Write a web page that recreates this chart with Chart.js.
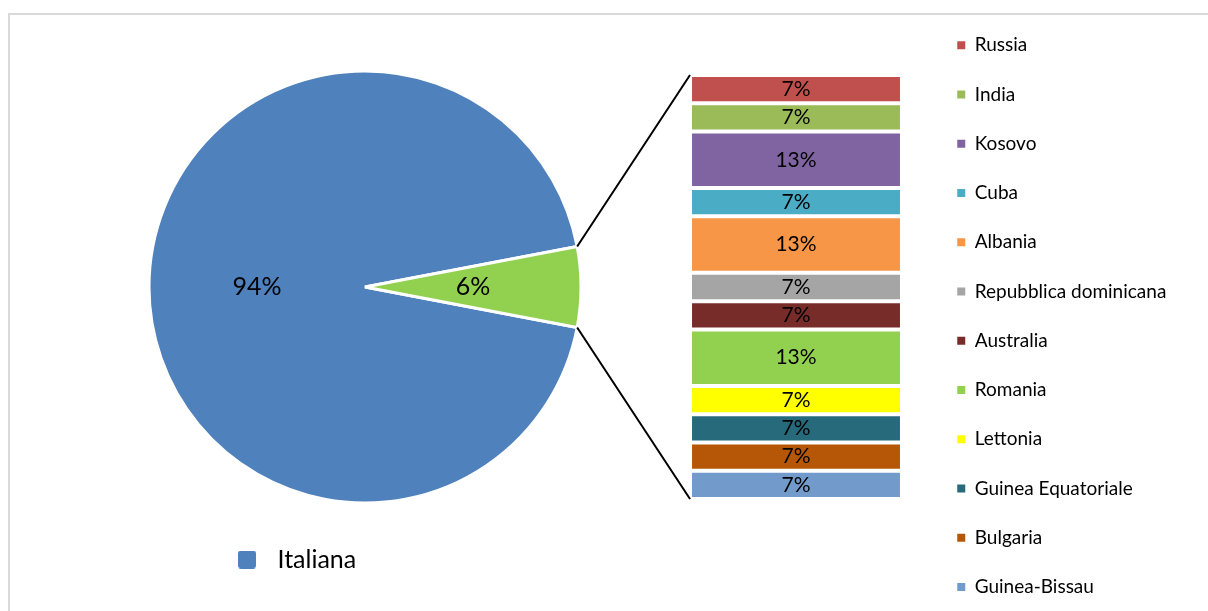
<!DOCTYPE html>
<html>
<head>
<meta charset="utf-8">
<script src="https://cdn.jsdelivr.net/npm/chart.js@4.4.1/dist/chart.umd.min.js"></script>
<style>
  html, body { margin: 0; padding: 0; background: #fff; overflow: hidden; }
  #wrap { position: relative; width: 1208px; height: 611px; overflow: hidden; }
  #frame { position: absolute; left: 8px; top: 13px; width: 1300px; height: 700px;
           border-left: 2px solid #d9d9d9; border-top: 2px solid #d9d9d9; }
  canvas { position: absolute; left: 0; top: 0; }
</style>
</head>
<body>
<div id="wrap">
  <div id="frame"></div>
  <canvas id="torta" width="730" height="582"></canvas>
  <canvas id="barra" width="1208" height="632"></canvas>
</div>
<script>
// pie: italian vs foreign citizenship (percent)
var pieLabels = ['Italiana', 'Straniera'];
var pieValues = [94, 6];
var pieColours = ['#4f81bd', '#92d050'];

// breakdown of the foreign slice (number of people)
var countries = ['Russia', 'India', 'Kosovo', 'Cuba', 'Albania', 'Repubblica dominicana',
  'Australia', 'Romania', 'Lettonia', 'Guinea Equatoriale', 'Bulgaria', 'Guinea-Bissau'];
var countryCounts = [1, 1, 2, 1, 2, 1, 1, 2, 1, 1, 1, 1];
var countryColours = ['#c0504d', '#9bbb59', '#8064a2', '#4bacc6', '#f79646', '#a5a5a5',
  '#772c2a', '#92d050', '#ffff00', '#276a7c', '#b65708', '#729aca'];

Chart.defaults.font.family = 'Lato';
Chart.defaults.color = '#000';

var sum = function(arr) {
	return arr.reduce(function(a, b) { return a + b; }, 0);
};

// rounded square used as the "Italiana" legend marker
var swatch = document.createElement('canvas');
swatch.width = 18;
swatch.height = 18;
var sctx = swatch.getContext('2d');
sctx.fillStyle = pieColours[0];
sctx.beginPath();
sctx.roundRect(0, 0, 18, 18, 3);
sctx.fill();

var pieLabelPlugin = {
	id: 'pieLabels',
	afterDatasetsDraw: function(chart) {
		var ctx = chart.ctx;
		var total = sum(pieValues);
		ctx.save();
		ctx.font = '25px Lato';
		ctx.fillStyle = '#000';
		ctx.textAlign = 'center';
		ctx.textBaseline = 'middle';
		chart.getDatasetMeta(0).data.forEach(function(arc, i) {
			var pos = arc.tooltipPosition();
			ctx.fillText(Math.round(pieValues[i] / total * 100) + '%', pos.x, pos.y);
		});
		ctx.restore();
	}
};

var pieChart = new Chart(document.getElementById('torta').getContext('2d'), {
	type: 'pie',
	data: {
		labels: pieLabels,
		datasets: [{
			data: pieValues,
			backgroundColor: pieColours,
			borderColor: '#fff',
			borderWidth: 3
		}]
	},
	options: {
		responsive: false,
		animation: false,
		events: [],
		radius: 216,
		// put the small slice on the right, pointing at the bar
		rotation: 90 + pieValues[1] / sum(pieValues) * 180,
		layout: { padding: { left: 219, right: 219, top: 37, bottom: 0 } },
		plugins: {
			tooltip: { enabled: false },
			legend: {
				position: 'bottom',
				align: 'start',
				labels: {
					usePointStyle: true,
					pointStyleWidth: 36,
					boxHeight: 18,
					padding: 10,
					font: { size: 25 },
					generateLabels: function(chart) {
						return [{
							text: pieLabels[0],
							fillStyle: pieColours[0],
							strokeStyle: pieColours[0],
							lineWidth: 0,
							pointStyle: swatch,
							fontColor: '#000',
							hidden: false,
							index: 0
						}];
					}
				}
			}
		}
	},
	plugins: [pieLabelPlugin]
});

var barLabelPlugin = {
	id: 'barLabels',
	afterDatasetsDraw: function(chart) {
		var ctx = chart.ctx;
		var total = sum(countryCounts);
		ctx.save();
		ctx.font = '21px Lato';
		ctx.fillStyle = '#000';
		ctx.textAlign = 'center';
		ctx.textBaseline = 'middle';
		chart.data.datasets.forEach(function(ds, i) {
			var bar = chart.getDatasetMeta(i).data[0];
			ctx.fillText(Math.round(ds.data[0] / total * 100) + '%', bar.x, (bar.y + bar.base) / 2);
		});

		// lines joining the small slice to the bar
		var arc = pieChart.getDatasetMeta(0).data[1];
		var r = arc.outerRadius;
		var first = chart.getDatasetMeta(0).data[0];
		var left = first.x - first.width / 2;
		var top = chart.scales.y.getPixelForValue(0);
		var bottom = chart.scales.y.getPixelForValue(total);
		ctx.strokeStyle = '#000';
		ctx.lineWidth = 2;
		ctx.beginPath();
		ctx.moveTo(arc.x + Math.cos(arc.startAngle) * r, arc.y + Math.sin(arc.startAngle) * r);
		ctx.lineTo(left, top);
		ctx.moveTo(arc.x + Math.cos(arc.endAngle) * r, arc.y + Math.sin(arc.endAngle) * r);
		ctx.lineTo(left, bottom);
		ctx.stroke();
		ctx.restore();
	}
};

var barDatasets = countries.map(function(name, i) {
	return {
		label: name,
		data: [countryCounts[i]],
		backgroundColor: countryColours[i],
		borderColor: '#fff',
		borderWidth: 2,
		borderSkipped: false
	};
});

// legend sizing: the legend sits right of the bar, so its width sets the right padding
var legendFont = 19;
var legendPad = 30.25;
var legendBox = 8;
var legendLeft = 927;
var measureCtx = document.createElement('canvas').getContext('2d');
measureCtx.font = legendFont + 'px Lato';
var widest = Math.max.apply(null, countries.map(function(t) {
	return measureCtx.measureText(t).width;
}));
var legendWidth = legendPad + legendBox + legendFont / 2 + widest + 10;

var barChart = new Chart(document.getElementById('barra').getContext('2d'), {
	type: 'bar',
	data: {
		labels: ['Straniera'],
		datasets: barDatasets
	},
	options: {
		responsive: false,
		animation: false,
		events: [],
		barPercentage: 0.809,
		categoryPercentage: 1,
		layout: { padding: { left: 665, right: 1208 - legendLeft - legendWidth, top: 0, bottom: 0 } },
		scales: {
			x: { stacked: true, display: false },
			y: { stacked: true, display: false, reverse: true, min: -2.653, max: 19.705 }
		},
		plugins: {
			tooltip: { enabled: false },
			legend: {
				position: 'right',
				align: 'center',
				maxWidth: 400,
				labels: {
					boxWidth: legendBox,
					boxHeight: legendBox,
					padding: legendPad,
					font: { size: legendFont },
					generateLabels: function(chart) {
						return chart.data.datasets.map(function(ds, i) {
							return {
								text: ds.label,
								fillStyle: ds.backgroundColor,
								strokeStyle: ds.backgroundColor,
								lineWidth: 0,
								fontColor: '#000',
								hidden: false,
								datasetIndex: i
							};
						});
					}
				}
			}
		}
	},
	plugins: [barLabelPlugin]
});
</script>
</body>
</html>
